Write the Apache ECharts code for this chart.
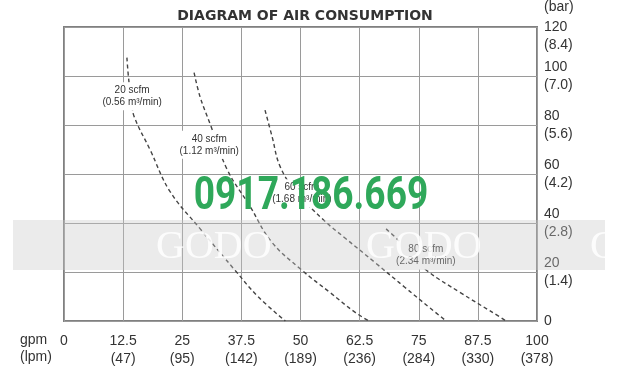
<!DOCTYPE html>
<html><head><meta charset="utf-8">
<script src="https://cdn.jsdelivr.net/npm/echarts@6/dist/echarts.min.js"></script>
<style>html,body{margin:0;padding:0;background:#fff}#c{width:623px;height:389px}</style>
</head><body><div id="c"></div>
<script>
// ---- data ----
const gpmTicks = [0, 12.5, 25, 37.5, 50, 62.5, 75, 87.5, 100];
const lpmTicks = ['', '(47)', '(95)', '(142)', '(189)', '(236)', '(284)', '(330)', '(378)'];
const psiTicks = [0, 20, 40, 60, 80, 100, 120];
const barTicks = ['', '(1.4)', '(2.8)', '(4.2)', '(5.6)', '(7.0)', '(8.4)'];

const curveNames = ['20 scfm', '40 scfm', '60 scfm', '80 scfm'];
const curveFlows = ['(0.56 m³/min)', '(1.12 m³/min)', '(1.68 m³/min)', '(2.34 m³/min)'];
const curve20 = [[13.3,107.5],[13.7,98.2],[14.3,90],[14.8,83.6],[18.2,69.9],[22.4,52.9],[28.8,37.6],[36.2,20.6],[41.0,10.0],[46.8,0]];
const curve40 = [[27.5,101.4],[28.8,91.3],[30.9,80.4],[34.5,61.8],[39.3,46.9],[43.8,32.5],[50.0,21.2],[56.2,11.7],[61.5,3.6],[64.5,0]];
const curve60 = [[42.5,86.1],[44.0,75.2],[45.7,63.0],[49.0,53.0],[55.0,41.0],[59.4,33.9],[65.8,23.8],[72.1,13.7],[77.4,5.3],[80.8,0]];
const curve80 = [[68.1,37.6],[70.4,33.5],[73.5,27.0],[76.7,20.6],[83.7,11.7],[92.2,1.6],[93.4,0]];
const labelAt = [[14.4,91.7],[30.7,71.9],[50.3,52.1],[76.5,26.7]];

// ---- chart ----
const chart = echarts.init(document.getElementById('c'), null, {renderer: 'canvas'});
const curves = [curve20, curve40, curve60, curve80];
const series = curves.map((d, i) => ({
  type: 'line',
  data: d,
  smooth: 0.4,
  symbol: 'none',
  lineStyle: {color: '#444', width: 1.4, type: [4, 3]},
  z: 3,
  markPoint: {
    symbol: 'rect', symbolSize: 0,
    data: [{coord: labelAt[i], value: curveNames[i] + '\n' + curveFlows[i]}],
    label: {
      show: true, position: 'inside', formatter: '{c}',
      backgroundColor: '#fff', padding: [2, 2],
      color: '#333', fontSize: 10, lineHeight: 12,
      fontFamily: 'Liberation Sans'
    }
  }
}));

const option = {
  backgroundColor: '#fff',
  animation: false,
  title: {
    text: 'DIAGRAM OF AIR CONSUMPTION',
    left: 300, top: 4, textAlign: 'center',
    textStyle: {fontSize: 14, fontWeight: 'bold', color: '#333', fontFamily: 'DejaVu Sans'}
  },
  grid: {left: 64, right: 86, top: 24, bottom: 68, show: true, borderColor: '#808080', borderWidth: 2, backgroundColor: 'transparent'},
  xAxis: {
    type: 'value', min: 0, max: 100, interval: 12.5,
    name: 'gpm\n(lpm)', nameLocation: 'start', nameGap: 44,
    nameTextStyle: {align: 'left', verticalAlign: 'top', padding: [11, 0, 0, 0], fontSize: 14, lineHeight: 17, color: '#333', fontFamily: 'Liberation Sans'},
    axisLine: {show: false}, axisTick: {show: false},
    splitLine: {show: true, lineStyle: {color: '#9a9a9a', width: 1}},
    axisLabel: {
      margin: 11, fontSize: 14, lineHeight: 18, color: '#333', fontFamily: 'Liberation Sans',
      formatter: v => { const i = gpmTicks.indexOf(v); return i <= 0 ? String(v) : gpmTicks[i] + '\n' + lpmTicks[i]; }
    }
  },
  yAxis: {
    type: 'value', position: 'right', min: 0, max: 120, interval: 20,
    axisLine: {show: false}, axisTick: {show: false},
    splitLine: {show: true, lineStyle: {color: '#9a9a9a', width: 1}},
    axisLabel: {
      margin: 7, fontSize: 14, lineHeight: 18, color: '#333', fontFamily: 'Liberation Sans',
      formatter: v => { const i = psiTicks.indexOf(v); if (i <= 0) return String(v); const t = psiTicks[i] + '\n' + barTicks[i]; return i === psiTicks.length - 1 ? '\n' + t : t; }
    }
  },
  series: series,
  graphic: [
    {type: 'text', z: 50, x: 544, y: 7, style: {text: '(bar)', fill: '#333', font: '14px "Liberation Sans"', textVerticalAlign: 'middle'}},
    {type: 'rect', z: 100, shape: {x: 13, y: 220, width: 592, height: 50}, style: {fill: 'rgba(200,200,200,0.36)'}},
    {type: 'text', z: 101, x: 156, y: 247, style: {text: 'GODO', fill: 'rgba(255,255,255,0.85)', font: '40px "Liberation Serif"', textVerticalAlign: 'middle'}},
    {type: 'text', z: 101, x: 366, y: 247, style: {text: 'GODO', fill: 'rgba(255,255,255,0.85)', font: '40px "Liberation Serif"', textVerticalAlign: 'middle'}},
    {type: 'text', z: 101, x: 590, y: 247, style: {text: 'G', fill: 'rgba(255,255,255,0.85)', font: '40px "Liberation Serif"', textVerticalAlign: 'middle'}},
    {type: 'text', z: 102, x: 311, y: 197, scaleX: 0.79, style: {text: '0917.186.669', fill: '#2fa85a', font: 'bold 47px Roboto', textAlign: 'center', textVerticalAlign: 'middle'}}
  ]
};
chart.setOption(option);
</script>
</body></html>
